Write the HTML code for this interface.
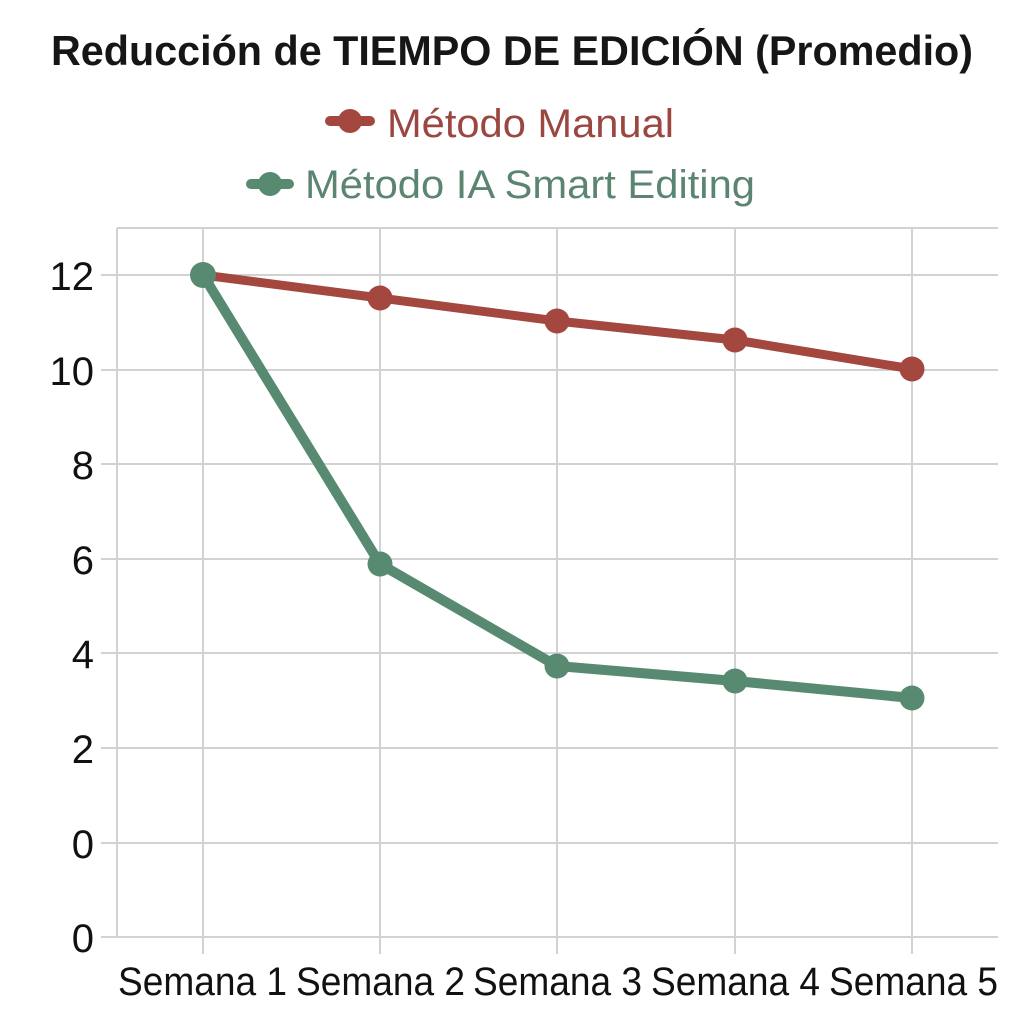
<!DOCTYPE html>
<html>
<head>
<meta charset="utf-8">
<style>
  html, body { margin: 0; padding: 0; background: #ffffff; }
  svg { display: block; }
  text { font-family: "Liberation Sans", "DejaVu Sans", sans-serif; }
</style>
</head>
<body>
<svg width="1024" height="1024" viewBox="0 0 1024 1024" xmlns="http://www.w3.org/2000/svg">
  <rect x="0" y="0" width="1024" height="1024" fill="#ffffff"/>

  <!-- Title -->
  <text x="51" y="65" font-size="41.5" font-weight="bold" fill="#161616" textLength="922" lengthAdjust="spacingAndGlyphs">Reducción de TIEMPO DE EDICIÓN (Promedio)</text>

  <!-- Legend -->
  <g>
    <line x1="330" y1="121" x2="370" y2="121" stroke="#a3473f" stroke-width="10" stroke-linecap="round"/>
    <circle cx="350" cy="121" r="12" fill="#a3473f"/>
    <text x="387" y="137" font-size="40" fill="#9b4640" textLength="287" lengthAdjust="spacingAndGlyphs">Método Manual</text>

    <line x1="251" y1="184" x2="289" y2="184" stroke="#588a72" stroke-width="10" stroke-linecap="round"/>
    <circle cx="270" cy="184" r="12" fill="#588a72"/>
    <text x="305" y="198" font-size="40" fill="#5b8571" textLength="450" lengthAdjust="spacingAndGlyphs">Método IA Smart Editing</text>
  </g>

  <!-- Grid -->
  <g stroke="#d2d2d2" stroke-width="2" fill="none">
    <!-- horizontal gridlines -->
    <line x1="101" y1="275" x2="998" y2="275"/>
    <line x1="101" y1="370" x2="998" y2="370"/>
    <line x1="101" y1="464" x2="998" y2="464"/>
    <line x1="101" y1="559" x2="998" y2="559"/>
    <line x1="101" y1="653" x2="998" y2="653"/>
    <line x1="101" y1="748" x2="998" y2="748"/>
    <line x1="101" y1="843" x2="998" y2="843"/>
    <line x1="101" y1="937" x2="998" y2="937"/>
    <!-- top border -->
    <line x1="117" y1="228" x2="998" y2="228"/>
    <!-- left axis -->
    <line x1="117" y1="228" x2="117" y2="937"/>
    <!-- vertical gridlines -->
    <line x1="203" y1="228" x2="203" y2="954"/>
    <line x1="380" y1="228" x2="380" y2="954"/>
    <line x1="557" y1="228" x2="557" y2="954"/>
    <line x1="735" y1="228" x2="735" y2="954"/>
    <line x1="912" y1="228" x2="912" y2="954"/>
  </g>

  <!-- Y labels -->
  <g font-size="40" fill="#111111" text-anchor="end">
    <text x="94" y="290">12</text>
    <text x="94" y="385">10</text>
    <text x="94" y="479">8</text>
    <text x="94" y="574">6</text>
    <text x="94" y="668">4</text>
    <text x="94" y="763">2</text>
    <text x="94" y="858">0</text>
    <text x="94" y="952">0</text>
  </g>

  <!-- X labels -->
  <g font-size="40" fill="#111111">
    <text x="118" y="995" textLength="169" lengthAdjust="spacingAndGlyphs">Semana 1</text>
    <text x="296" y="995" textLength="169" lengthAdjust="spacingAndGlyphs">Semana 2</text>
    <text x="473" y="995" textLength="169" lengthAdjust="spacingAndGlyphs">Semana 3</text>
    <text x="651" y="995" textLength="169" lengthAdjust="spacingAndGlyphs">Semana 4</text>
    <text x="829" y="995" textLength="169" lengthAdjust="spacingAndGlyphs">Semana 5</text>
  </g>

  <!-- Series: Manual -->
  <polyline points="203,275 380,298 557,321 735,340 912,369" fill="none" stroke="#a3473f" stroke-width="9" stroke-linejoin="round" stroke-linecap="round"/>
  <g fill="#a3473f">
    <circle cx="380" cy="298" r="12.5"/>
    <circle cx="557" cy="321" r="12.5"/>
    <circle cx="735" cy="340" r="12.5"/>
    <circle cx="912" cy="369" r="12.5"/>
  </g>

  <!-- Series: IA -->
  <polyline points="203,275 380,564 557,666 735,681 912,698" fill="none" stroke="#588a72" stroke-width="10" stroke-linejoin="round" stroke-linecap="round"/>
  <g fill="#588a72">
    <circle cx="203" cy="275" r="13"/>
    <circle cx="380" cy="564" r="12.5"/>
    <circle cx="557" cy="666" r="12.5"/>
    <circle cx="735" cy="681" r="12.5"/>
    <circle cx="912" cy="698" r="12.5"/>
  </g>
</svg>
</body>
</html>
